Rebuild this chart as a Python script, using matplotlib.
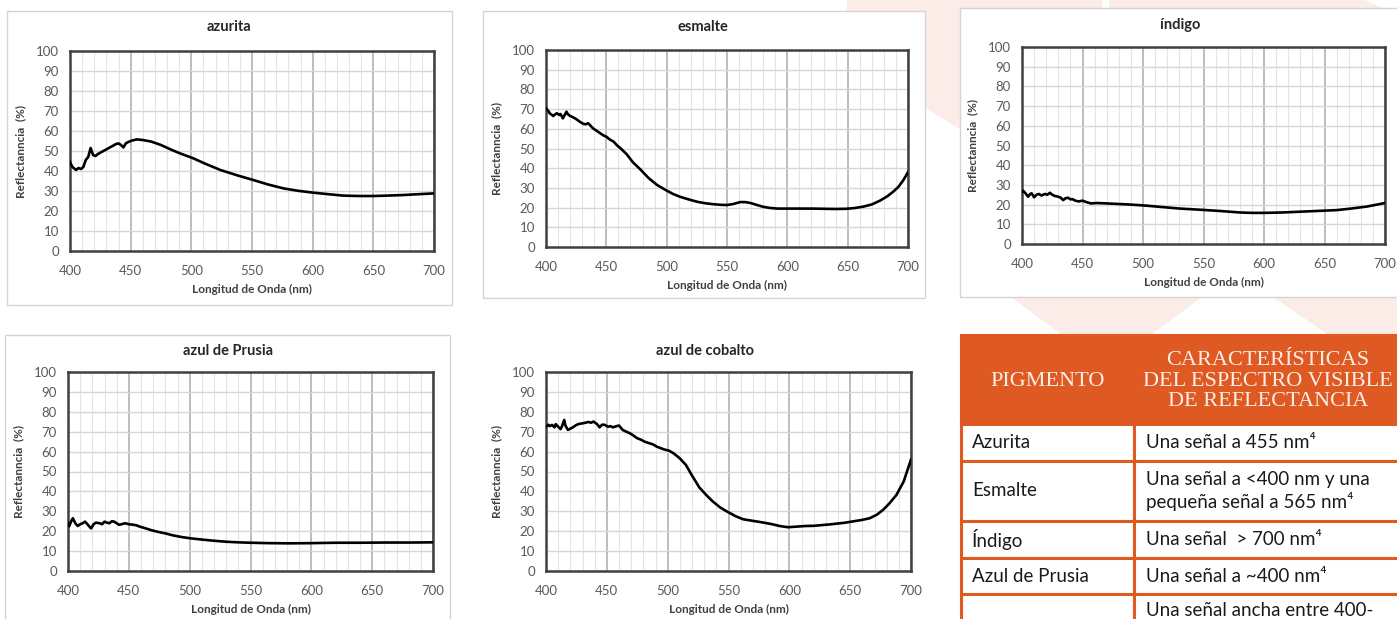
import matplotlib
matplotlib.use("Agg")
import matplotlib.pyplot as plt
from matplotlib.patches import Rectangle, Polygon

W, H = 1397, 619

# --- datos (longitud de onda en nm, reflectancia en %) ---
azurita_nm = [400, 402, 405, 407, 409, 411, 413, 415, 417, 419, 421, 423, 426, 429, 432, 435,
              438, 440, 442, 444, 446, 448, 451, 455, 460, 467, 475, 484, 492, 501, 512, 524,
              538, 551, 563, 576, 588, 600, 613, 625, 638, 650, 662, 675, 687, 700]
azurita_r = [44.5, 42, 40.5, 41.5, 41, 42, 45.5, 47, 51.5, 48, 47.5, 48.5, 49.5, 50.5, 51.5, 52.5,
             53.5, 53.8, 53, 51.8, 53.8, 54.5, 55.2, 55.8, 55.5, 54.7, 53, 50.5, 48.5, 46.5, 43.5, 40.5,
             37.8, 35.5, 33.3, 31.3, 30.1, 29.2, 28.4, 27.7, 27.5, 27.5, 27.7, 28, 28.4, 28.8]

esmalte_nm = [400, 402, 403, 405, 406, 408, 409, 411, 412, 414, 415, 417, 418, 420, 422, 424,
              426, 428, 431, 433, 435, 437, 439, 442, 445, 448, 450, 453, 456, 459, 462, 467,
              472, 478, 485, 492, 499, 505, 511, 518, 525, 532, 539, 545, 550, 555, 561, 565,
              569, 575, 580, 586, 592, 600, 610, 620, 630, 640, 649, 656, 663, 670, 677, 683,
              688, 692, 696, 700]
esmalte_r = [70.4, 69, 67.9, 67, 66.5, 67.5, 67.9, 67, 67.5, 65.3, 66.5, 68.7, 67.5, 66.5, 66, 65.3,
             64.5, 63.6, 62.5, 62.3, 62.8, 61.5, 60.2, 59, 57.7, 56.5, 56, 54.5, 53.5, 51.5, 50, 47,
             43, 39.5, 35, 31.5, 29, 27, 25.5, 24.2, 23, 22.2, 21.7, 21.4, 21.3, 21.8, 22.8, 22.8,
             22.4, 21.3, 20.4, 19.8, 19.5, 19.5, 19.5, 19.5, 19.4, 19.3, 19.4, 19.8, 20.5, 21.6, 23.6, 25.8,
             28.2, 30.5, 33.8, 38]

indigo_nm = [400, 401, 403, 405, 407, 408, 410, 412, 414, 416, 419, 421, 423, 425, 427, 430,
             432, 434, 436, 438, 440, 442, 444, 447, 450, 453, 457, 462, 470, 480, 490, 502,
             515, 530, 550, 565, 580, 590, 600, 615, 630, 645, 660, 672, 685, 700]
indigo_r = [26.6, 27, 25.7, 24, 25.5, 25.7, 23.7, 25, 25.4, 24.6, 25.4, 25, 26, 25, 24.4, 24,
            23.5, 22.3, 23.2, 23.5, 22.7, 22.7, 22, 21.6, 22, 21.3, 20.6, 20.8, 20.6, 20.3, 20, 19.5,
            18.8, 18, 17.3, 16.7, 16, 15.8, 15.8, 16, 16.4, 16.8, 17.2, 18, 19, 20.8]

prusia_nm = [400, 401, 403, 404, 406, 408, 410, 412, 414, 416, 418, 419, 421, 423, 426, 428,
             430, 432, 434, 436, 438, 440, 442, 444, 447, 450, 453, 456, 459, 464, 468, 473,
             480, 487, 494, 501, 510, 520, 530, 540, 550, 565, 582, 600, 620, 640, 660, 680, 700]
prusia_r = [24.3, 22.5, 25.5, 26.5, 24, 22.6, 23.5, 24, 24.8, 23.5, 22, 21.4, 23.5, 24.3, 24, 23.5,
            24.8, 24.3, 24, 25, 24.8, 24, 23.2, 23.5, 24, 23.5, 23.3, 23, 22.3, 21.4, 20.6, 19.8,
            18.9, 17.8, 17, 16.4, 15.8, 15.2, 14.7, 14.4, 14.2, 14, 13.9, 14, 14.2, 14.2, 14.3, 14.3, 14.4]

cobalto_nm = [400, 402, 403, 405, 407, 408, 410, 412, 413, 415, 416, 418, 420, 422, 425, 427,
              430, 433, 435, 437, 439, 442, 444, 446, 448, 451, 453, 455, 458, 460, 463, 466,
              469, 472, 475, 478, 481, 485, 488, 491, 494, 497, 501, 505, 510, 515, 520, 526,
              532, 537, 543, 549, 556, 562, 570, 579, 586, 592, 599, 606, 613, 620, 633, 645,
              653, 660, 666, 672, 677, 682, 688, 694, 700]
cobalto_r = [72.5, 73.5, 72.8, 73.4, 72.2, 73.8, 72.5, 71.3, 72.5, 75.9, 73, 70.9, 71.5, 72.2, 73.4, 73.9,
             74.2, 74.6, 74.9, 74.5, 75.1, 73.8, 72.2, 73.5, 73.5, 72.5, 72.8, 72.2, 72.8, 73.1, 70.9, 70,
             69.2, 68, 66.7, 66, 65, 64.2, 63.6, 62.5, 61.8, 61.1, 60.5, 59.1, 56.6, 53.3, 48, 42,
             38, 35, 32, 29.8, 27.5, 26, 25.2, 24.3, 23.5, 22.6, 22, 22.3, 22.6, 22.7, 23.4, 24.2,
             25, 25.7, 26.5, 28.3, 30.7, 33.8, 38.2, 45, 56]

# --- tabla ---
table_header = ["PIGMENTO", "CARACTERÍSTICAS\nDEL ESPECTRO VISIBLE\nDE REFLECTANCIA"]
table_pigments = ["Azurita", "Esmalte", "Índigo", "Azul de Prusia", ""]
table_notes = ["Una señal a 455 nm⁴",
               "Una señal a <400 nm y una\npequeña señal a 565 nm⁴",
               "Una señal  > 700 nm⁴",
               "Una señal a ~400 nm⁴",
               "Una señal ancha entre 400-"]

ORANGE = "#df5922"
FONT = ["Lato", "DejaVu Sans"]


def fig_rect(l, t, r, b):
    return [l / W, 1 - b / H, (r - l) / W, (b - t) / H]


def draw_chart(rect, nm, refl, title, title_xy):
    ax = fig.add_axes(fig_rect(*rect), zorder=2)
    ax.plot(nm, refl, color="black", lw=1.9, zorder=3)
    ax.set_xlim(400, 700)
    ax.set_ylim(0, 100)
    ax.set_xticks(range(400, 701, 50))
    ax.set_xticks(range(400, 701, 10), minor=True)
    ax.set_yticks(range(0, 101, 10))
    ax.grid(which="major", axis="x", color="#bdbdbd", lw=1.4)
    ax.grid(which="minor", axis="x", color="#e4e4e4", lw=0.8)
    ax.grid(which="major", axis="y", color="#d6d6d6", lw=1.0)
    ax.set_axisbelow(True)
    ax.tick_params(which="both", length=0)
    ax.tick_params(axis="x", pad=10, labelsize=9.5, labelcolor="#595959")
    ax.tick_params(axis="y", pad=8, labelsize=9.5, labelcolor="#595959")
    for lab in ax.get_xticklabels() + ax.get_yticklabels():
        lab.set_family(FONT)
    for sp in ax.spines.values():
        sp.set_color("#404040")
        sp.set_linewidth(1.8)
    ax.set_xlabel("Longitud de Onda (nm)", fontsize=8.5, fontweight="bold",
                  color="#404040", labelpad=5, family=FONT)
    ax.set_ylabel("Reflectanncia  (%)", fontsize=8.5, fontweight="bold",
                  color="#404040", labelpad=7, family=FONT)
    bg.text(title_xy[0], title_xy[1], title, ha="center", va="center", fontsize=10.5,
            fontweight="bold", color="#262626", family=FONT)
    return ax


fig = plt.figure(figsize=(W / 100, H / 100), dpi=100)
fig.patch.set_facecolor("white")

bg = fig.add_axes([0, 0, 1, 1], zorder=0)
bg.set_xlim(0, W)
bg.set_ylim(H, 0)
bg.axis("off")

# formas rosadas del fondo
pink = "#fbece7"
bg.add_patch(Polygon([(847, 0), (1102, 0), (1102, 200), (990, 200), (960, 129), (924, 107), (847, 60)],
                     closed=True, fc=pink, ec="none"))
bg.add_patch(Polygon([(1109, 0), (1365, 0), (1397, 15), (1397, 200), (1109, 200)],
                     closed=True, fc=pink, ec="none"))
bg.add_patch(Polygon([(1011, 297), (1202, 297), (1144, 340), (1069, 340)],
                     closed=True, fc=pink, ec="none"))
bg.add_patch(Polygon([(1273, 297), (1397, 297), (1397, 340), (1336, 340)],
                     closed=True, fc=pink, ec="none"))
bg.add_patch(Polygon([(940, 0), (960, 0), (960, 125), (940, 112)],
                     closed=True, fc=pink, ec="none"))

# marcos de cada grafico
for l, t, r, b in [(7, 11, 452, 305), (483, 11, 925, 298), (960, 8, 1400, 297), (5, 335, 450, 625)]:
    bg.add_patch(Rectangle((l, t), r - l, b - t, fc="white", ec="#d4d4d4", lw=1.0))
bg.add_patch(Rectangle((470, 320), 470, 310, fc="white", ec="none"))

draw_chart((70, 51, 434, 251), azurita_nm, azurita_r, "azurita", (229, 27))
draw_chart((546, 50, 908, 247), esmalte_nm, esmalte_r, "esmalte", (703, 27))
draw_chart((1022, 47, 1385, 244), indigo_nm, indigo_r, "índigo", (1180, 25))
draw_chart((68, 372, 433, 571), prusia_nm, prusia_r, "azul de Prusia", (228, 351))
draw_chart((546, 372, 911, 571), cobalto_nm, cobalto_r, "azul de cobalto", (705, 351))

# tabla de caracteristicas
x0, x1, x2 = 961, 1134, 1405
row_edges = [424, 461, 521, 558, 594, 650]
bg.add_patch(Rectangle((x0, 335), x2 - x0, row_edges[0] - 335, fc=ORANGE, ec=ORANGE, lw=1.5))
bg.text((x0 + x1) / 2, 382, table_header[0], ha="center", va="center", fontsize=16,
        color="#fdeee6", family="Liberation Serif")
bg.text(1268, 381, table_header[1], ha="center", va="center", fontsize=16,
        color="#fdeee6", family="Liberation Serif", linespacing=1.12)
for i in range(len(table_pigments)):
    top, bot = row_edges[i], row_edges[i + 1]
    bg.add_patch(Rectangle((x0, top), x1 - x0, bot - top, fc="white", ec=ORANGE, lw=2.2))
    bg.add_patch(Rectangle((x1, top), x2 - x1, bot - top, fc="white", ec=ORANGE, lw=2.2))
    yc = (top + bot) / 2 if i < 4 else 611
    bg.text(x0 + 11, yc, table_pigments[i], ha="left", va="center", fontsize=13.5,
            color="#1a1a1a", family=FONT)
    bg.text(x1 + 12, yc, table_notes[i], ha="left", va="center", fontsize=13.5,
            color="#1a1a1a", family=FONT, linespacing=1.25)

fig.savefig("out.png", dpi=100)
plt.close(fig)
